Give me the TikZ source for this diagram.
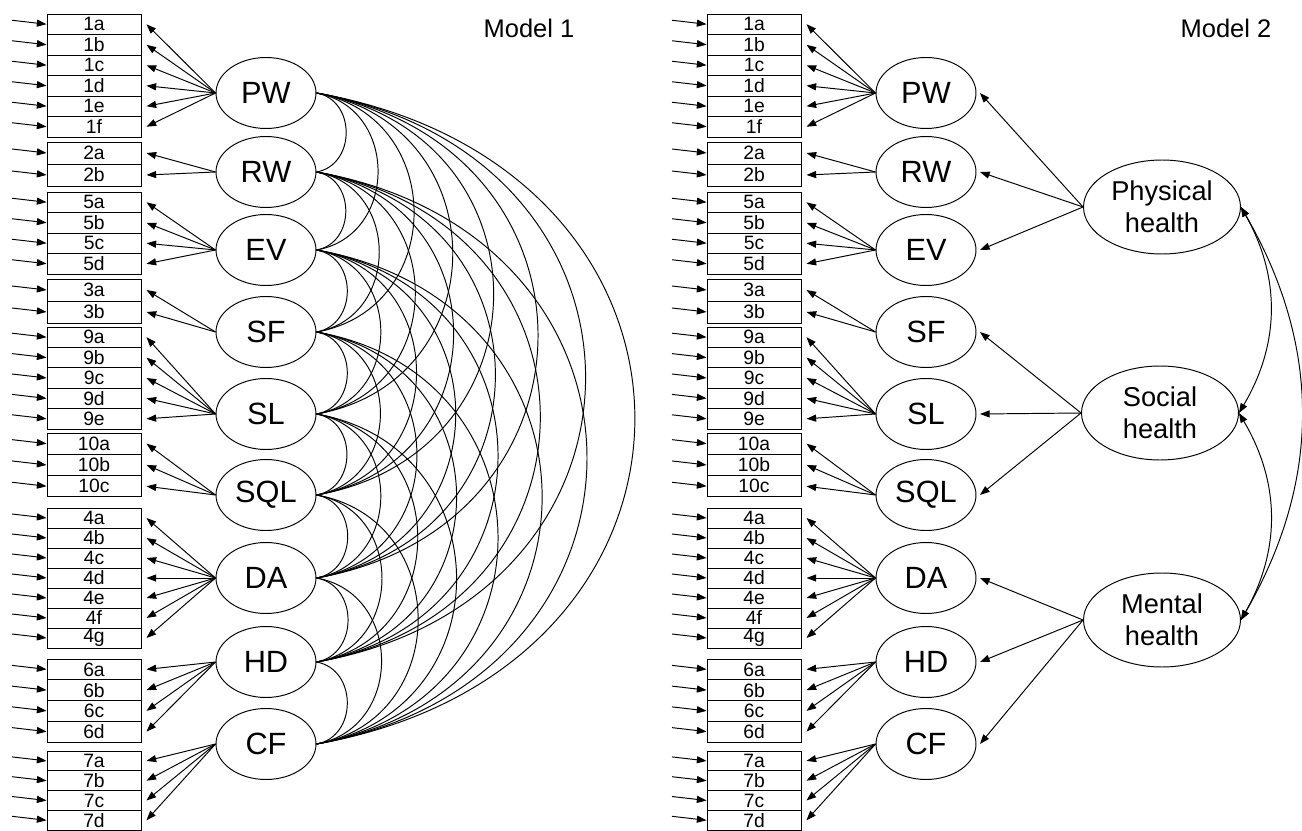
\documentclass[tikz,border=0pt]{standalone}
\usepackage{fontspec}
\setmainfont{Liberation Sans}
\usetikzlibrary{arrows.meta,shapes.geometric}

\begin{document}
\begin{tikzpicture}[x=0.02cm,y=-0.02cm,line width=0.55pt,
    >={Triangle[length=5.5pt,width=4pt]},
    item/.style={draw,rectangle,inner sep=0,minimum width=1.88cm,
      font=\fontsize{11}{11}\selectfont},
    lat/.style={draw,ellipse,inner sep=0,minimum width=2cm,minimum height=1.42cm,
      font=\fontsize{17.5}{18}\selectfont},
    hlat/.style={draw,ellipse,inner sep=0,minimum width=3.14cm,minimum height=1.88cm,
      align=center,font=\fontsize{15.5}{18}\selectfont},
    title/.style={font=\fontsize{14.5}{17}\selectfont}]
  \useasboundingbox (0,0) rectangle (1302,831);
  \foreach \m/\dx in {1/0,2/660}{
    \foreach \f/\fy/\ty/\rh/\items in {PW/93/14/20.5/{1a,1b,1c,1d,1e,1f},
        RW/172/142/22/{2a,2b},EV/250/192/20.5/{5a,5b,5c,5d},SF/332/279/22/{3a,3b},
        SL/414/327/20.4/{9a,9b,9c,9d,9e},SQL/495/433/21.3/{10a,10b,10c},
        DA/578/508/20/{4a,4b,4c,4d,4e,4f,4g},HD/662/659/20.75/{6a,6b,6c,6d},
        CF/744/751/19.8/{7a,7b,7c,7d}}{
      \node[lat] (m\m\f) at (266+\dx,\fy) {\f};
      \foreach \ind [count=\k] in \items {
        \node[item,minimum height=\rh*0.02cm] (m\m-\ind)
          at (94+\dx,\ty+\k*\rh-\rh/2) {\ind};
        \coordinate (e\m-\ind) at (12+\dx,\ty+\k*\rh-\rh/2-4);
        \draw[->] (e\m-\ind) -- (m\m-\ind.west);
        \draw[->] (m\m\f.west) -- ([xshift=0.1cm]m\m-\ind.east);
      }
    }
  }
  \foreach \a [count=\i] in {PW,RW,EV,SF,SL,SQL,DA,HD,CF}
    \foreach \b [count=\j] in {PW,RW,EV,SF,SL,SQL,DA,HD,CF}{
      \ifnum\j>\i
        \pgfmathsetmacro\lo{1.25+0.056*(\j-\i)}
        \draw (m1\a.east) to[out=-10,in=10,looseness=\lo] (m1\b.east);
      \fi
    }
  \node[title] (t1) at (529,28) {Model 1};
  \node[title] (t2) at (1226,28) {Model 2};
  \node[hlat] (phys) at (1162,207) {Physical\\health};
  \node[hlat] (soc) at (1160,413) {Social\\health};
  \node[hlat] (ment) at (1162,620) {Mental\\health};
  \foreach \h/\fs in {phys/{PW,RW,EV},soc/{SF,SL,SQL},ment/{DA,HD,CF}}
    \foreach \f in \fs
      \draw[->] (\h.west) -- ([xshift=0.07cm]m2\f.east);
  \draw[<->] (phys.east) to[bend left=30] (soc.east);
  \draw[<->] (soc.east) to[bend left=30] (ment.east);
  \draw[<->] (phys.east) to[bend left=30] (ment.east);
\end{tikzpicture}
\end{document}
